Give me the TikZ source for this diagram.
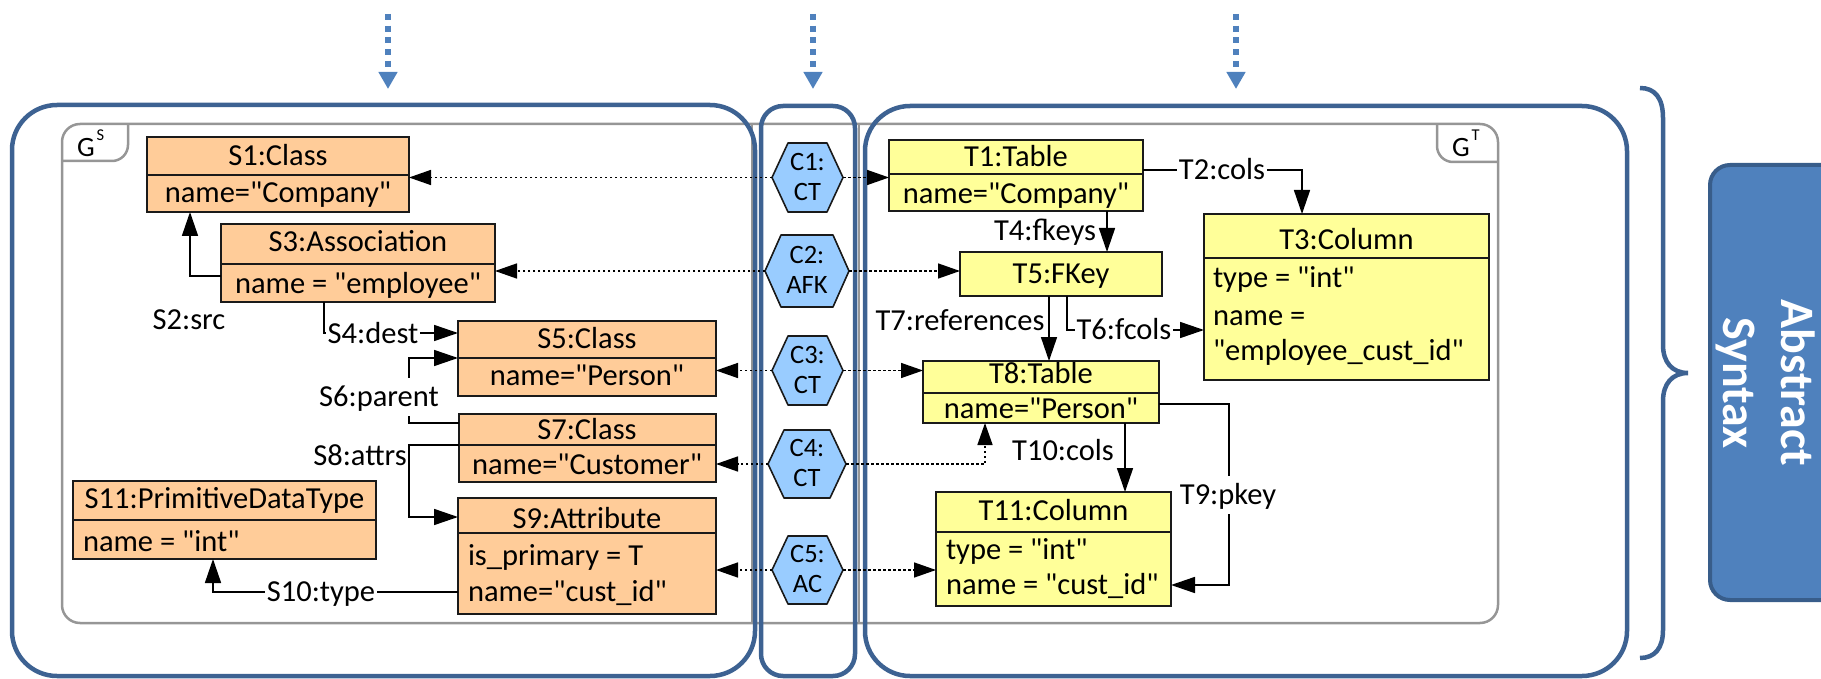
\documentclass[tikz,border=0pt]{standalone}
\usepackage{fontspec}
\setmainfont{Carlito}[Ligatures=TeXOff]
\usetikzlibrary{arrows.meta,fit,calc}

\definecolor{srcfill}{HTML}{FFCC99}
\definecolor{tgtfill}{HTML}{FFFF99}
\definecolor{corrfill}{HTML}{99CCFF}
\definecolor{frameblue}{HTML}{3D6292}
\definecolor{accblue}{HTML}{4F81BD}
\definecolor{accdark}{HTML}{385D8A}
\definecolor{graphgray}{HTML}{969696}
\definecolor{inkline}{HTML}{1A1A1A}

\tikzset{
  every node/.style={inner sep=0pt, outer sep=0pt},
  umlbox/.style={draw=inkline, line width=1.6pt, inner sep=0pt},
  srcbox/.style={umlbox, fill=srcfill},
  tgtbox/.style={umlbox, fill=tgtfill},
  divider/.style={draw=inkline, line width=1.2pt},
  txt/.style={font=\fontsize{30.5}{37}\selectfont, text height=19.5pt, text depth=0pt, inner sep=0pt},
  lbl/.style={txt, fill=white, inner xsep=1.5pt, inner ysep=4pt},
  conn/.style={draw=black, line width=1.6pt, -{Triangle[length=24pt,width=16pt]}},
  corr/.style={draw=black, line width=1.5pt, dash pattern=on 2.5pt off 2.5pt, -{Triangle[length=22pt,width=15pt]}},
  hexshape/.style={draw=inkline, fill=corrfill, line width=1.6pt, line join=round},
  hextxt/.style={font=\fontsize{26.5}{30}\selectfont, align=center},
  bigframe/.style={draw=frameblue, line width=4.5pt},
  graphframe/.style={draw=graphgray, line width=2.5pt},
  inflow/.style={draw=accblue, line width=6pt, dash pattern=on 6pt off 5.7pt, -{Triangle[length=17pt,width=18pt]}},
}

% correspondence hexagon: name, cx, cy, half width, height, text
\newcommand\corrhex[6]{%
  \node[minimum width={2*#4pt}, minimum height={#5pt}] (#1) at (#2,#3) {};
  \draw[hexshape] (#1.west) -- ([xshift=16pt]#1.north west) -- ([xshift=-16pt]#1.north east)
     -- (#1.east) -- ([xshift=-16pt]#1.south east) -- ([xshift=16pt]#1.south west) -- cycle;
  \node[hextxt] (#1txt) at ([yshift=1pt]#1.center) {#6};
}

\begin{document}
\begin{tikzpicture}[x=1pt,y=-1pt]
\path[use as bounding box, clip] (0,0) rectangle (1821,679);

% incoming dotted arrows
\coordinate (inS0) at (388,14);  \coordinate (inS1) at (388,89);
\coordinate (inC0) at (813,14);  \coordinate (inC1) at (813,89);
\coordinate (inT0) at (1236,14); \coordinate (inT1) at (1236,89);
\draw[inflow] (inS0) -- (inS1);
\draw[inflow] (inC0) -- (inC1);
\draw[inflow] (inT0) -- (inT1);

% graph frames G^S and G^T
\draw[graphframe, rounded corners=18pt] (62,124) rectangle (1498,623);
\draw[graphframe] (752,124) -- (752,623);
\draw[graphframe] (859,124) -- (859,623);
\draw[graphframe, rounded corners=16pt] (62,161) -- (128,161) -- (128,124);
\draw[graphframe, rounded corners=16pt] (1498,162) -- (1437,162) -- (1437,124);
\node[anchor=base west, font=\fontsize{28}{30}\selectfont] (gsLabel) at (77,157)
  {G\hspace{2pt}\raisebox{0.58em}{\fontsize{16.5}{17}\selectfont S}};
\node[anchor=base west, font=\fontsize{28}{30}\selectfont] (gtLabel) at (1452,157)
  {G\hspace{2pt}\raisebox{0.58em}{\fontsize{16.5}{17}\selectfont T}};

% triple panels
\draw[bigframe, rounded corners=45pt] (12,105) rectangle (755,676);
\draw[bigframe, rounded corners=22pt] (761,106) rectangle (855,676);
\draw[bigframe, rounded corners=45pt] (865,106) rectangle (1627,676);

% brace and side label
\draw[draw=frameblue, line width=4.5pt]
  (1640,88) .. controls (1655,88) and (1663,98) .. (1663,118) -- (1663,345)
  .. controls (1663,362) and (1672,373) .. (1688,373)
  .. controls (1672,373) and (1663,384) .. (1663,401) -- (1663,630)
  .. controls (1663,648) and (1655,658) .. (1640,658);
\node[fit={(1710,165) (1850,600)}, inner sep=0pt, draw=accdark, fill=accblue,
      line width=4pt, rounded corners=20pt] (absBox) {};
\node[rotate=-90, align=center, text=white, font=\bfseries\fontsize{48}{58}\selectfont]
  (absTxt) at (1766,383) {Abstract\\Syntax};

% ---------- source graph ----------
\node[srcbox, fit={(147,137) (409,212)}] (S1) {};
\draw[divider] (147,175) -- (409,175);
\node[txt] (S1t) at (278,156) {S1:Class};
\node[txt] (S1b) at (278,193) {name="Company"};

\node[srcbox, fit={(221,224) (495,302)}] (S3) {};
\draw[divider] (221,264) -- (495,264);
\node[txt] (S3t) at (358,242) {S3:Association};
\node[txt] (S3b) at (358,284) {name = "employee"};

\node[srcbox, fit={(458,321) (716,396)}] (S5) {};
\draw[divider] (458,358) -- (716,358);
\node[txt] (S5t) at (587,339) {S5:Class};
\node[txt] (S5b) at (587,376) {name="Person"};

\node[srcbox, fit={(459,414) (716,482)}] (S7) {};
\draw[divider] (459,445) -- (716,445);
\node[txt] (S7t) at (587,430) {S7:Class};
\node[txt] (S7b) at (587,465) {name="Customer"};

\node[srcbox, fit={(458,498) (716,614)}] (S9) {};
\draw[divider] (458,533) -- (716,533);
\node[txt] (S9t) at (587,519) {S9:Attribute};
\node[txt, anchor=west] (S9a) at (468,556) {is\_primary = T};
\node[txt, anchor=west] (S9b) at (468,592) {name="cust\_id"};

\node[srcbox, fit={(73,481) (376,559)}] (S11) {};
\draw[divider] (73,520) -- (376,520);
\node[txt] (S11t) at (224.5,499) {S11:PrimitiveDataType};
\node[txt, anchor=west] (S11b) at (83,542) {name = "int"};

% ---------- target graph ----------
\node[tgtbox, fit={(889,140) (1143,211)}] (T1) {};
\draw[divider] (889,174) -- (1143,174);
\node[txt] (T1t) at (1016,157) {T1:Table};
\node[txt] (T1b) at (1016,194) {name="Company"};

\node[tgtbox, fit={(960,252) (1162,296)}] (T5) {};
\node[txt] (T5t) at (1061,274) {T5:FKey};

\node[tgtbox, fit={(1204,214) (1489,380)}] (T3) {};
\draw[divider] (1204,258) -- (1489,258);
\node[txt] (T3t) at (1346.5,240) {T3:Column};
\node[txt, anchor=west] (T3a) at (1213,278) {type = "int"};
\node[txt, anchor=west] (T3b) at (1213,316) {name =};
\node[txt, anchor=west] (T3c) at (1213,351) {"employee\_cust\_id"};

\node[tgtbox, fit={(923,361) (1159,423)}] (T8) {};
\draw[divider] (923,393) -- (1159,393);
\node[txt] (T8t) at (1041,374) {T8:Table};
\node[txt] (T8b) at (1041,409) {name="Person"};

\node[tgtbox, fit={(936,492) (1171,606)}] (T11) {};
\draw[divider] (936,532) -- (1171,532);
\node[txt] (T11t) at (1053.5,511) {T11:Column};
\node[txt, anchor=west] (T11a) at (946,550) {type = "int"};
\node[txt, anchor=west] (T11b) at (946,585) {name = "cust\_id"};

% ---------- correspondence nodes ----------
\corrhex{C1}{807.5}{177.5}{35.5}{69}{C1:\\CT}
\corrhex{C2}{807}{271}{42}{72}{C2:\\AFK}
\corrhex{C3}{807.5}{370.5}{35.5}{69}{C3:\\CT}
\corrhex{C4}{807}{464}{39}{68}{C4:\\CT}
\corrhex{C5}{807.5}{570}{35.5}{68}{C5:\\AC}

\draw[corr] (C1.west) -- (S1.east |- C1.west);
\draw[corr] (C1.east) -- (T1.west |- C1.east);
\draw[corr] (C2.west) -- (S3.east |- C2.west);
\draw[corr] (C2.east) -- (T5.west |- C2.east);
\draw[corr] (C3.west) -- (S5.east |- C3.west);
\draw[corr] (C3.east) -- (T8.west |- C3.east);
\draw[corr] (C4.west) -- (S7.east |- C4.west);
\draw[corr] (C4.east) -| (985,0 |- T8.south);
\draw[corr] (C5.west) -- (S9.east |- C5.west);
\draw[corr] (C5.east) -- (T11.west |- C5.east);

% ---------- source edges ----------
\draw[conn] (S3.west |- 0,276) -| (190,0 |- S1.south);
\node[txt] (S2l) at (189,320) {S2:src};

\draw[conn] (324,0 |- S3.south) |- (S5.west |- 0,333);
\node[lbl] (S4l) at (373,334) {S4:dest};

\draw[conn] (S7.west |- 0,423) -| (409,377) |- (S5.west |- 0,358);
\node[lbl, inner ysep=9pt] (S6l) at (379,397) {S6:parent};

\draw[conn] (S7.west |- 0,445) -| (409,517) -- (S9.west |- 0,517);
\node[txt] (S8l) at (360,456) {S8:attrs};

\draw[conn] (S9.west |- 0,592) -| (213,0 |- S11.south);
\node[lbl] (S10l) at (321,592) {S10:type};

% ---------- target edges ----------
\draw[conn] (T1.east |- 0,170) -| (1302,0 |- T3.north);
\node[lbl] (T2l) at (1222,170) {T2:cols};

\draw[conn] (1107,0 |- T1.south) -- (1107,0 |- T5.north);
\node[txt] (T4l) at (1045,231) {T4:fkeys};

\draw[conn] (1049,0 |- T5.south) -- (1049,0 |- T8.north);
\node[txt] (T7l) at (960,321) {T7:references};

\draw[conn] (1067,0 |- T5.south) |- (T3.west |- 0,330);
\node[lbl] (T6l) at (1124,330) {T6:fcols};

\draw[conn] (1125,0 |- T8.south) -- (1125,0 |- T11.north);
\node[txt] (T10l) at (1063,451) {T10:cols};

\draw[conn] (T8.east |- 0,404) -| (1229,585) -- (T11.east |- 0,585);
\node[lbl, inner ysep=9pt] (T9l) at (1228,495) {T9:pkey};
\end{tikzpicture}
\end{document}
